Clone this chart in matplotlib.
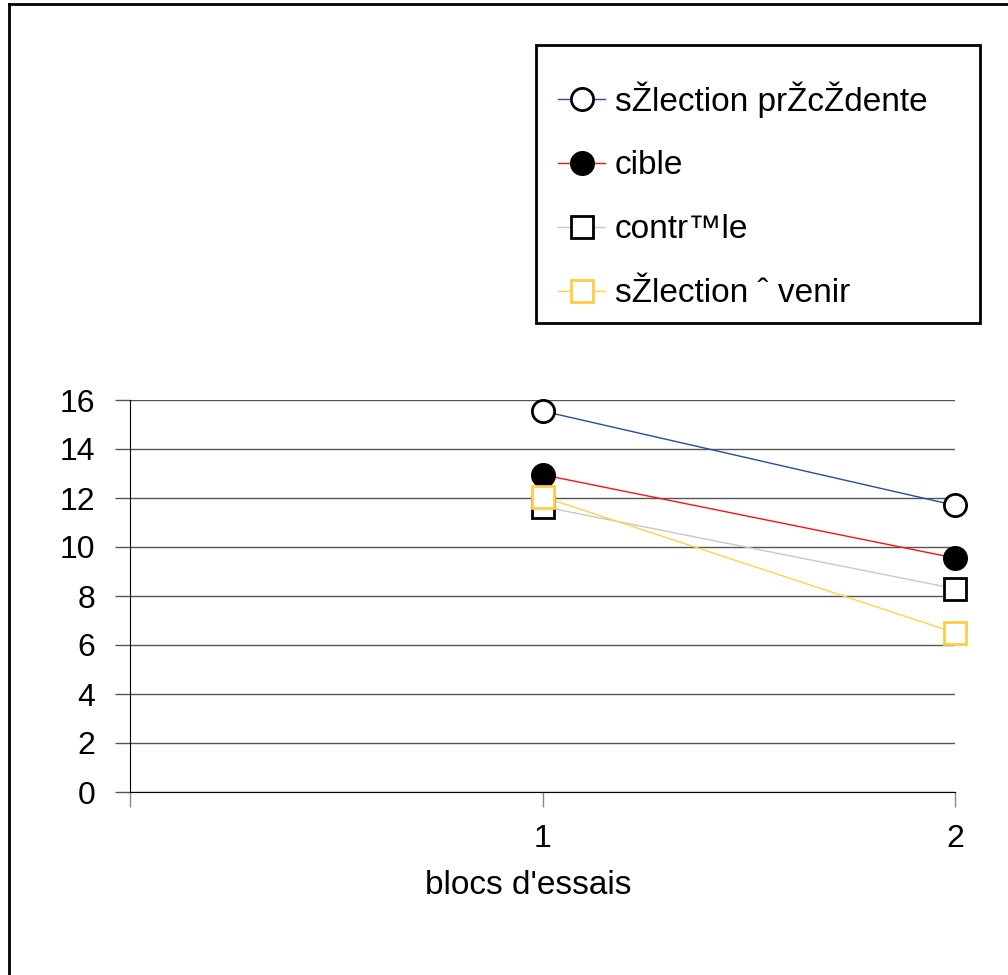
import matplotlib
matplotlib.use("Agg")
import matplotlib.pyplot as plt
from matplotlib.lines import Line2D
from matplotlib.patches import Rectangle

plt.rcParams['font.family'] = ['Liberation Sans', 'DejaVu Sans']

blocs = [1, 2]
labels = ["s\u017dlection pr\u017dc\u017ddente", "cible", "contr\u2122le", "s\u017dlection \u02c6 venir"]
prec = [15.55, 11.7]
cible = [12.95, 9.55]
controle = [11.65, 8.3]
venir = [12.05, 6.5]

series = [prec, cible, controle, venir]
line_colors = ["#2a4aa8", "#ff1010", "#c8c8c8", "#ffd24a"]
markers = ["o", "o", "s", "s"]
face = ["white", "black", "white", "white"]
edge = ["black", "black", "black", "#ffcc44"]

W, H = 1008, 975
fig = plt.figure(figsize=(W / 100, H / 100), dpi=100)
ax = fig.add_axes([130 / W, 1 - 792 / H, 825 / W, 392 / H])

for i in range(4):
    ax.plot(blocs, series[i], color=line_colors[i], lw=1, zorder=3)
for i in range(4):
    ax.plot(blocs, series[i], ls="none", marker=markers[i], ms=16,
            mfc=face[i], mec=edge[i], mew=2, zorder=4, clip_on=False)

ax.set_xlim(0, 2)
ax.set_ylim(0, 16)
ax.set_yticks(range(0, 17, 2))
ax.set_xticks([0, 1, 2])
ax.set_xticklabels(["", "1", "2"])
ax.grid(axis="y", color="#555555", lw=1)
ax.set_axisbelow(True)
for s in ["top", "right"]:
    ax.spines[s].set_visible(False)
ax.spines["left"].set_color("black")
ax.spines["bottom"].set_color("black")
ax.tick_params(axis="y", length=11, width=1, color="#555555", labelsize=23, pad=14)
ax.tick_params(axis="x", length=11, width=1, color="#888888", labelsize=23, pad=12)
ax.xaxis.get_major_ticks()[0].tick1line.set_color("black")
ax.yaxis.get_major_ticks()[0].tick1line.set_color("black")

fig.text(528 / W, 1 - 885 / H, "blocs d'essais", fontsize=24, ha="center", va="center")

# legend box
fig.add_artist(Rectangle((536 / W, 1 - 323 / H), 444 / W, 278 / H, transform=fig.transFigure,
                         fill=False, edgecolor="black", lw=2))
handles = []
for i in range(4):
    handles.append(Line2D([], [], color=line_colors[i], lw=1, marker=markers[i], ms=16,
                          mfc=face[i], mec=edge[i], mew=2))
leg = fig.legend(handles, labels, loc="upper left", bbox_to_anchor=(522 / W, 1 - 45 / H),
                 fontsize=24, frameon=False, handlelength=1.41, labelspacing=0.99,
                 borderpad=1.08, handletextpad=0.3, borderaxespad=0)

fig.add_artist(Line2D([9 / W, 9 / W], [0, 1 - 4 / H], color="black", lw=2))
fig.add_artist(Line2D([9 / W, 1], [1 - 4 / H, 1 - 4 / H], color="black", lw=2))

fig.savefig("out.png", dpi=100)
